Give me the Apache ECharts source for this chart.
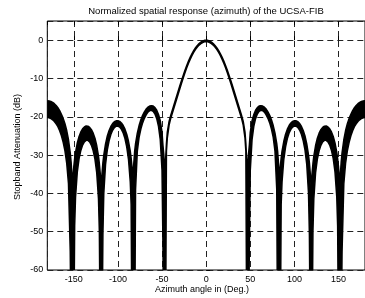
<!DOCTYPE html>
<html><head><meta charset="utf-8">
<script src="https://cdn.jsdelivr.net/npm/echarts@6/dist/echarts.min.js"></script>
<style>html,body{margin:0;padding:0;background:#fff;}#c{width:365px;height:298px;}</style>
</head><body><div id="c"></div>
<script>
// Azimuth angles (deg)
const angles = [-180,-178,-176,-174,-172,-170,-168,-166,-164,-162,-160,-158,-156,-154,-153,-152,-151,-150,-149,-148,-146,-144,-142,-140,-138,-136,-134,-132,-130,-128,-126,-124,-122,-121,-120,-119,-118,-117,-116,-114,-112,-110,-108,-106,-104,-102,-100,-98,-96,-94,-92,-90,-88,-86,-85,-84,-83,-82,-81,-80,-78,-76,-74,-72,-70,-68,-66,-64,-62,-60,-58,-56,-54,-52,-50,-49,-48,-47,-46,-45,-44,-42,-40,-38,-36,-34,-32,-30,-28,-26,-24,-22,-20,-18,-16,-14,-12,-10,-8,-6,-4,-2,
0,2,4,6,8,10,12,14,16,18,20,22,24,26,28,30,32,34,36,38,40,42,44,45,46,47,48,49,50,52,54,56,58,60,62,64,66,68,70,72,74,76,78,80,81,82,83,84,85,86,88,90,92,94,96,98,100,102,104,106,108,110,112,114,116,117,118,119,120,121,122,124,126,128,130,132,134,136,138,140,142,144,146,148,149,150,151,152,153,154,156,158,160,162,164,166,168,170,172,174,176,178,180];
// Upper edge of the response band (dB)
const upperDb = [-15.8,-15.85,-15.99,-16.24,-16.59,-17.05,-17.64,-18.38,-19.38,-20.42,-21.8,-23.6,-26.0,-29.4,-31.9,-35.4,-36.1,-33.1,-30.9,-29.3,-26.85,-25.16,-23.96,-23.15,-22.66,-22.41,-22.46,-22.77,-23.36,-24.27,-25.6,-27.5,-30.25,-32.25,-34.8,-38.55,-34.85,-32.05,-30.0,-27.07,-25.02,-23.6,-22.53,-21.79,-21.3,-21.05,-21.01,-21.19,-21.61,-22.28,-23.23,-24.55,-26.4,-28.95,-30.8,-33.05,-36.2,-32.2,-29.0,-27.0,-24.3,-22.3,-20.8,-19.6,-18.7,-18.0,-17.5,-17.2,-17.1,-17.2,-17.6,-18.3,-19.4,-21.0,-24.0,-27.3,-29.8,-33.4,-31.5,-27.0,-24.0,-21.2,-19.5,-18.0,-16.5,-15.0,-13.5,-12.0,-10.6,-9.2,-7.85,-6.6,-5.45,-4.43,-3.5,-2.68,-1.97,-1.37,-0.88,-0.5,-0.22,-0.05,
0,-0.05,-0.22,-0.5,-0.88,-1.37,-1.97,-2.68,-3.5,-4.43,-5.45,-6.6,-7.85,-9.2,-10.6,-12.0,-13.5,-15.0,-16.5,-18.0,-19.5,-21.2,-24.0,-27.0,-31.5,-33.4,-29.8,-27.3,-24.0,-21.0,-19.4,-18.3,-17.6,-17.2,-17.1,-17.2,-17.5,-18.0,-18.7,-19.6,-20.8,-22.3,-24.3,-27.0,-29.0,-32.2,-36.2,-33.05,-30.8,-28.95,-26.4,-24.55,-23.23,-22.28,-21.61,-21.19,-21.01,-21.05,-21.3,-21.79,-22.53,-23.6,-25.02,-27.07,-30.0,-32.05,-34.85,-38.55,-34.8,-32.25,-30.25,-27.5,-25.6,-24.27,-23.36,-22.77,-22.46,-22.41,-22.66,-23.15,-23.96,-25.16,-26.85,-29.3,-30.9,-33.1,-36.1,-35.4,-31.9,-29.4,-26.0,-23.6,-21.8,-20.42,-19.38,-18.38,-17.64,-17.05,-16.59,-16.24,-15.99,-15.85,-15.8];
// Lower edge of the response band (dB)
const lowerDb = [-20.2,-20.27,-20.45,-20.79,-21.22,-21.85,-22.6,-23.66,-24.98,-26.68,-28.9,-32.1,-37.5,-55.2,-80,-80,-80,-80,-48.5,-40.9,-34.4,-30.92,-28.78,-27.39,-26.54,-26.15,-26.16,-26.58,-27.45,-28.87,-31.05,-34.58,-41.4,-50.0,-80,-80,-80,-50.8,-40.0,-32.45,-28.65,-26.26,-24.63,-23.53,-22.83,-22.47,-22.42,-22.68,-23.28,-24.25,-25.7,-27.84,-31.1,-36.96,-42.9,-80,-80,-80,-80,-39.0,-29.0,-25.4,-23.2,-21.6,-20.4,-19.5,-18.8,-18.4,-18.3,-18.6,-19.3,-20.5,-22.5,-26.0,-34.0,-52.5,-80,-80,-80,-29.0,-25.5,-22.2,-20.3,-18.8,-17.3,-15.8,-14.3,-12.8,-11.35,-9.9,-8.5,-7.2,-6.0,-4.95,-4.0,-3.15,-2.42,-1.8,-1.28,-0.9,-0.62,-0.45,
-0.4,-0.45,-0.62,-0.9,-1.28,-1.8,-2.42,-3.15,-4.0,-4.95,-6.0,-7.2,-8.5,-9.9,-11.35,-12.8,-14.3,-15.8,-17.3,-18.8,-20.3,-22.2,-25.5,-29.0,-80,-80,-80,-52.5,-34.0,-26.0,-22.5,-20.5,-19.3,-18.6,-18.3,-18.4,-18.8,-19.5,-20.4,-21.6,-23.2,-25.4,-29.0,-39.0,-80,-80,-80,-80,-42.9,-36.96,-31.1,-27.84,-25.7,-24.25,-23.28,-22.68,-22.42,-22.47,-22.83,-23.53,-24.63,-26.26,-28.65,-32.45,-40.0,-50.8,-80,-80,-80,-50.0,-41.4,-34.58,-31.05,-28.87,-27.45,-26.58,-26.16,-26.15,-26.54,-27.39,-28.78,-30.92,-34.4,-40.9,-48.5,-80,-80,-80,-80,-55.2,-37.5,-32.1,-28.9,-26.68,-24.98,-23.66,-22.6,-21.85,-21.22,-20.79,-20.45,-20.27,-20.2];

const titleText = 'Normalized spatial response (azimuth) of the UCSA-FIB';
const xLabelText = 'Azimuth angle in (Deg.)';
const yLabelText = 'Stopband Attenuation (dB)';

const FONT = '"Liberation Sans", Arial, Helvetica, sans-serif';
const bandData = angles.map((a, i) => [a, upperDb[i], lowerDb[i]]);

const chart = echarts.init(document.getElementById('c'), null, {renderer: 'canvas'});
const xBase = {
  type: 'value', min: -180, max: 180, splitNumber: 7, minInterval: 50, maxInterval: 50,
  axisLine: {show: false}
};
chart.setOption({
  animation: false,
  backgroundColor: '#fff',
  grid: {left: 47.3, top: 21, width: 320.4, height: 249, show: true,
         borderColor: '#000', borderWidth: 1, backgroundColor: 'transparent'},
  xAxis: [
    Object.assign({}, xBase, {
      position: 'bottom',
      axisTick: {inside: true, length: 4, lineStyle: {color: '#000'}},
      axisLabel: {showMinLabel: false, showMaxLabel: false, color: '#000', fontSize: 9, fontFamily: FONT, margin: 5},
      splitLine: {show: true, lineStyle: {color: '#222', width: 1, type: [6, 4]}}
    }),
    Object.assign({}, xBase, {
      position: 'top',
      axisTick: {inside: true, length: 4, lineStyle: {color: '#000'}},
      axisLabel: {show: false},
      splitLine: {show: false}
    })
  ],
  yAxis: {
    type: 'value', min: -60, max: 5, interval: 10,
    axisLine: {show: false},
    axisTick: {inside: true, length: 4, lineStyle: {color: '#000'}},
    axisLabel: {showMaxLabel: false, color: '#000', fontSize: 9, fontFamily: FONT, margin: 4},
    splitLine: {show: true, lineStyle: {color: '#222', width: 1, type: [6, 4]}}
  },
  series: [{
    type: 'custom',
    coordinateSystem: 'cartesian2d',
    xAxisIndex: 0, yAxisIndex: 0,
    clip: true,
    data: bandData,
    encode: {x: 0, y: [1, 2]},
    z: 3,
    renderItem: function (params, api) {
      if (params.dataIndex !== 0) return null;
      const pts = [];
      for (let i = 0; i < bandData.length; i++) pts.push(api.coord([bandData[i][0], bandData[i][1]]));
      for (let i = bandData.length - 1; i >= 0; i--) pts.push(api.coord([bandData[i][0], bandData[i][2]]));
      const cs = params.coordSys;
      return {
        type: 'group',
        clipPath: {type: 'rect', shape: {x: cs.x, y: cs.y, width: cs.width, height: cs.height}},
        children: [{
          type: 'polygon',
          shape: {points: pts},
          style: {fill: '#000', stroke: '#000', lineWidth: 1.5, lineJoin: 'round'}
        }]
      };
    }
  }],
  graphic: [
    {type: 'text', x: 206, y: 11, style: {text: titleText, font: '9.5px ' + FONT, fill: '#000', textAlign: 'center', textVerticalAlign: 'middle'}},
    {type: 'text', x: 202, y: 290, style: {text: xLabelText, font: '9px ' + FONT, fill: '#000', textAlign: 'center', textVerticalAlign: 'middle'}},
    {type: 'text', x: 18, y: 147, rotation: Math.PI / 2, style: {text: yLabelText, font: '9px ' + FONT, fill: '#000', textAlign: 'center', textVerticalAlign: 'middle'}}
  ]
});
</script></body></html>
